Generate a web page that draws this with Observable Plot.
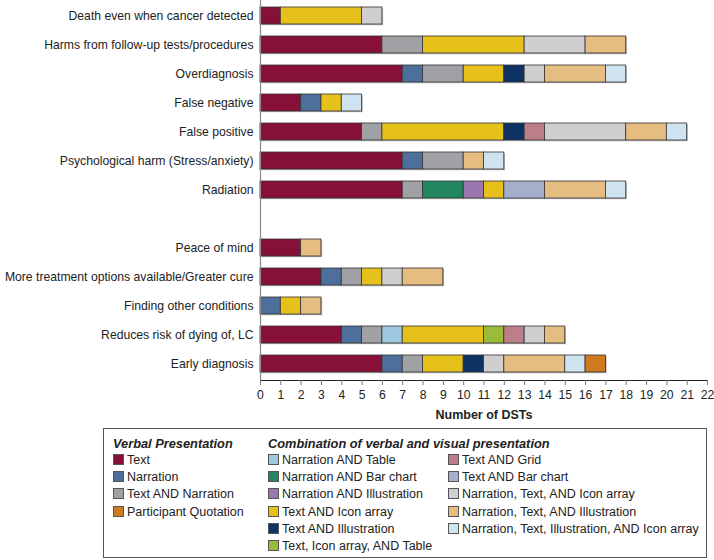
<!DOCTYPE html>
<html>
<head>
<meta charset="utf-8">
<script src="https://cdn.jsdelivr.net/npm/d3@7"></script>
<script src="https://cdn.jsdelivr.net/npm/@observablehq/plot@0.6"></script>
<style>
  body { margin: 0; background: #fff; font-family: "Liberation Sans", Arial, Helvetica, sans-serif; }
  #wrap { position: relative; width: 714px; height: 560px; }
  #legend { position: absolute; left: 103px; top: 428px; width: 604px; height: 130px; box-sizing: border-box; border: 1.5px solid #555; font-size: 12.5px; color: #222; }
  .col { position: absolute; top: 6px; }
  .ttl { font-weight: bold; font-style: italic; font-size: 12.8px; height: 17px; line-height: 17px; }
  .item { height: 17.2px; line-height: 17.2px; white-space: nowrap; }
  .sw { display: inline-block; width: 9px; height: 9px; border: 1px solid #555; margin-right: 3px; vertical-align: -1px; }
</style>
</head>
<body>
<div id="wrap">
  <div id="chart"></div>
  <div id="legend"></div>
</div>
<script>
// Rows, top to bottom (harms, then benefits)
const harms = [
  "Death even when cancer detected",
  "Harms from follow-up tests/procedures",
  "Overdiagnosis",
  "False negative",
  "False positive",
  "Psychological harm (Stress/anxiety)",
  "Radiation"
];
const benefits = [
  "Peace of mind",
  "More treatment options available/Greater cure",
  "Finding other conditions",
  "Reduces risk of dying of, LC",
  "Early diagnosis"
];
const categories = harms.concat(benefits);

// Presentation types (stack order) and colours
const types = [
  "Text", "Narration", "Text AND Narration",
  "Narration AND Table", "Narration AND Bar chart", "Narration AND Illustration",
  "Text AND Icon array", "Text AND Illustration", "Text, Icon array, AND Table",
  "Text AND Grid", "Text AND Bar chart",
  "Narration, Text, AND Icon array", "Narration, Text, AND Illustration",
  "Narration, Text, Illustration, AND Icon array",
  "Participant Quotation"
];
const colors = [
  "#861038", "#4e6e9c", "#a0a1a4",
  "#9dc8e0", "#22875e", "#9b77b0",
  "#e6c11c", "#0d3263", "#9cbb3a",
  "#bc7e88", "#a3afcb",
  "#cfcfd1", "#e5bd80",
  "#d0e3f0",
  "#cf7a1e"
];

// Counts per type, in the order of `categories`
const text              = [1,6,7,2,5,7,7, 2,3,0,4,6];
const narration         = [0,0,1,1,0,1,0, 0,1,1,1,1];
const textNarration     = [0,2,2,0,1,2,1, 0,1,0,1,1];
const narrTable         = [0,0,0,0,0,0,0, 0,0,0,1,0];
const narrBarChart      = [0,0,0,0,0,0,2, 0,0,0,0,0];
const narrIllustration  = [0,0,0,0,0,0,1, 0,0,0,0,0];
const textIconArray     = [4,5,2,1,6,0,1, 0,1,1,4,2];
const textIllustration  = [0,0,1,0,1,0,0, 0,0,0,0,1];
const textIconTable     = [0,0,0,0,0,0,0, 0,0,0,1,0];
const textGrid          = [0,0,0,0,1,0,0, 0,0,0,1,0];
const textBarChart      = [0,0,0,0,0,0,2, 0,0,0,0,0];
const ntIconArray       = [1,3,1,0,4,0,0, 0,1,0,1,1];
const ntIllustration    = [0,2,3,0,2,1,3, 1,2,1,1,3];
const ntiIconArray      = [0,0,1,1,1,1,1, 0,0,0,0,1];
const quotation         = [0,0,0,0,0,0,0, 0,0,0,0,1];

const series = [text, narration, textNarration, narrTable, narrBarChart, narrIllustration,
  textIconArray, textIllustration, textIconTable, textGrid, textBarChart,
  ntIconArray, ntIllustration, ntiIconArray, quotation];

const xTicks = d3.range(0, 23);

const rows = [];
categories.forEach((c, j) => {
  types.forEach((t, i) => {
    const v = series[i][j];
    if (v > 0) rows.push({category: c, type: t, value: v});
  });
});
const totals = categories.map((c, j) => ({category: c, total: d3.sum(series, s => s[j])}));

const yDomain = harms.concat([" "], benefits);

const chart = Plot.plot({
  width: 714,
  height: 422,
  marginLeft: 260,
  marginRight: 7,
  marginTop: 0,
  marginBottom: 42,
  style: {fontFamily: '"Liberation Sans", Arial, Helvetica, sans-serif', fontSize: "12.2px", color: "#222"},
  x: {domain: [0, 22], ticks: xTicks, tickSize: 5, tickPadding: 5, label: "Number of DSTs", labelAnchor: "center", labelArrow: "none", labelOffset: 38, line: true},
  y: {domain: yDomain, paddingInner: 0.41, paddingOuter: 0.205, tickSize: 0, tickPadding: 7, label: null},
  color: {domain: types, range: colors},
  marks: [
    Plot.barX(totals, {x: "total", y: "category", fill: "#b4b4b4", dx: 1.2, dy: 1.2}),
    Plot.barX(rows, Plot.stackX({x: "value", y: "category", fill: "type", stroke: "#333", strokeWidth: 0.8})),
    Plot.ruleX([0], {stroke: "#888", strokeWidth: 1.2})
  ]
});
document.getElementById("chart").appendChild(chart);

// style axis pieces
d3.select(chart).selectAll("[aria-label='x-axis tick'] path, [aria-label='x-axis line'] line, [aria-label='x-axis line'] path").attr("stroke", "#777");
d3.select(chart).selectAll("[aria-label='x-axis label'] text").style("font-weight", "bold").style("font-size", "12.5px");

// legend
const legend = d3.select("#legend");
const groups = [
  {left: 9, title: "Verbal Presentation", items: [0, 1, 2, 14]},
  {left: 164, title: "Combination of verbal and visual presentation", items: [3, 4, 5, 6, 7, 8]},
  {left: 344, title: "", items: [9, 10, 11, 12, 13]}
];
groups.forEach(g => {
  const col = legend.append("div").attr("class", "col").style("left", g.left + "px");
  col.append("div").attr("class", "ttl").html(g.title || "&nbsp;");
  g.items.forEach(i => {
    const it = col.append("div").attr("class", "item");
    it.append("span").attr("class", "sw").style("background", colors[i]);
    it.append("span").text(types[i]);
  });
});
</script>
</body>
</html>
